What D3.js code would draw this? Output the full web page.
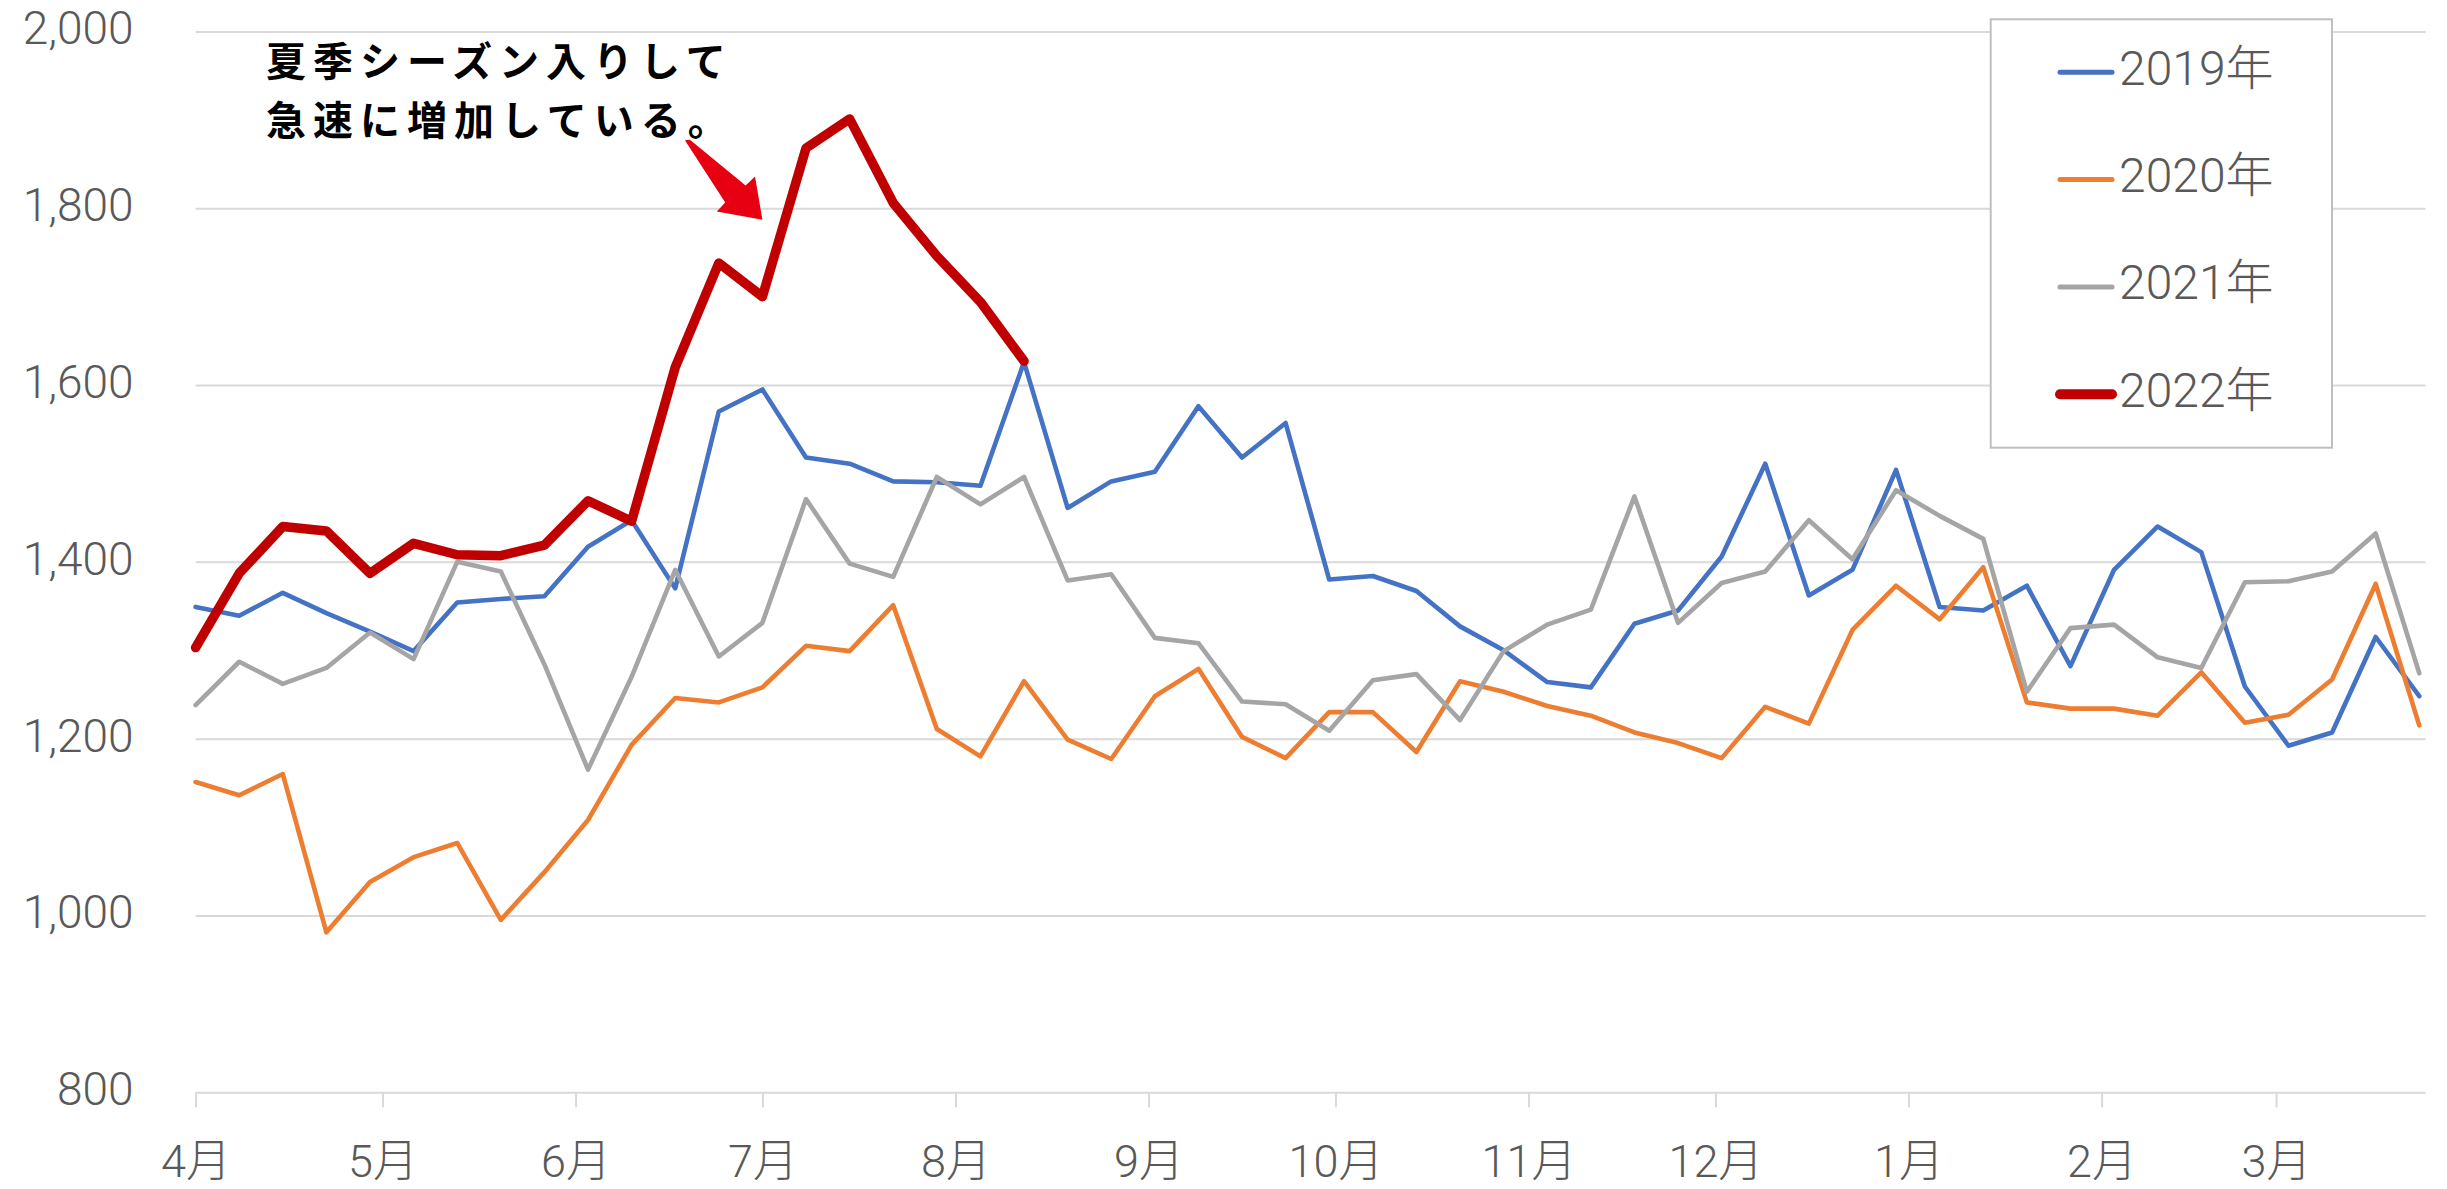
<!DOCTYPE html>
<html><head><meta charset="utf-8">
<script src="https://cdn.jsdelivr.net/npm/d3@7"></script>
<style>
html,body{margin:0;padding:0;background:#fff;}
svg{display:block;}
</style></head>
<body><svg id="chart" width="2447" height="1189"></svg>
<script>
// ---------------- data ----------------
const weekDates = [
  "2022-04-01","2022-04-08","2022-04-15","2022-04-22","2022-04-29",
  "2022-05-06","2022-05-13","2022-05-20","2022-05-27",
  "2022-06-03","2022-06-10","2022-06-17","2022-06-24",
  "2022-07-01","2022-07-08","2022-07-15","2022-07-22","2022-07-29",
  "2022-08-05","2022-08-12","2022-08-19","2022-08-26",
  "2022-09-02","2022-09-09","2022-09-16","2022-09-23","2022-09-30",
  "2022-10-07","2022-10-14","2022-10-21","2022-10-28",
  "2022-11-04","2022-11-11","2022-11-18","2022-11-25",
  "2022-12-02","2022-12-09","2022-12-16","2022-12-23","2022-12-30",
  "2023-01-06","2023-01-13","2023-01-20","2023-01-27",
  "2023-02-03","2023-02-10","2023-02-17","2023-02-24",
  "2023-03-03","2023-03-10","2023-03-17","2023-03-24"
];
const monthTicks = ["2022-04-01","2022-05-01","2022-06-01","2022-07-01","2022-08-01","2022-09-01",
  "2022-10-01","2022-11-01","2022-12-01","2023-01-01","2023-02-01","2023-03-01"];
const monthLabels = ["4月","5月","6月","7月","8月","9月","10月","11月","12月","1月","2月","3月"];
const yTicks = [800,1000,1200,1400,1600,1800,2000];
const seriesNames = ["2019年","2020年","2021年","2022年"];

const v2019 = [1349,1339,1365,1342,1321,1299,1354,1358,1361,1417,1447,1370,1570,1595,1518,1511,1491,1490,1486,1626,
  1461,1491,1502,1576,1518,1557,1380,1384,1367,1327,1300,1264,1258,1330,1345,1406,1511,1362,1391,1504,
  1349,1345,1373,1282,1391,1440,1411,1259,1192,1207,1315,1248];
const v2020 = [1151,1136,1160,981,1038,1066,1082,995,1049,1108,1193,1246,1241,1258,1305,1299,1351,1211,1180,1265,
  1199,1177,1248,1279,1202,1178,1230,1230,1185,1265,1253,1237,1226,1207,1195,1178,1236,1217,1323,1373,
  1335,1394,1241,1234,1234,1226,1275,1218,1227,1267,1375,1215];
const v2021 = [1238,1287,1262,1280,1320,1290,1400,1389,1284,1165,1270,1391,1293,1331,1471,1398,1383,1496,1465,1496,
  1379,1386,1314,1308,1242,1239,1209,1266,1273,1221,1299,1329,1346,1474,1331,1376,1389,1447,1403,1481,
  1452,1426,1253,1325,1329,1292,1280,1377,1378,1389,1432,1274];
const v2022 = [1303,1387,1440,1435,1387,1421,1408,1407,1419,1469,1446,1620,1738,1700,1868,1901,1806,1746,1694,1627];

const annotationLines = ["夏季シーズン入りして","急速に増加している。"];
const arrowTarget = {date:"2022-07-01", value:1787};

// ---------------- layout ----------------
const W = 2447, H = 1189;
const L = 195.6, R = 2425.5, T = 31.4, B = 1092.3;
const colors = ["#4472C4","#ED7D31","#A5A5A5","#C00000"];
const widths = [4.6,4.6,4.6,9.5];
const textColor = "#595959";
const gridColor = "#D9D9D9";
const cjk = "'Noto Sans CJK JP','Noto Sans',sans-serif";
const tickFont = "Roboto,'Noto Sans CJK JP',sans-serif";

const parse = d3.timeParse("%Y-%m-%d");
const dates = weekDates.map(parse);
const x = d3.scaleTime().domain([parse("2022-04-01"), parse("2023-03-25")]).range([L, R]);
const y = d3.scaleLinear().domain([800, 2000]).range([B, T]);

const svg = d3.select("#chart");
svg.append("rect").attr("width", W).attr("height", H).attr("fill", "#fff");

// grid
svg.append("g").attr("transform", `translate(${L},0)`)
  .call(d3.axisLeft(y).tickValues(yTicks).tickSize(-(R - L)).tickFormat(""))
  .call(g => g.select(".domain").remove())
  .selectAll("line").attr("stroke", gridColor).attr("stroke-width", 2);

// y labels
svg.append("g").attr("transform", `translate(${L},0)`)
  .call(d3.axisLeft(y).tickValues(yTicks).tickSize(0).tickPadding(62).tickFormat(d3.format(",")))
  .call(g => g.select(".domain").remove())
  .selectAll("text")
  .attr("font-family", tickFont).attr("font-size", 46).attr("font-weight", 300)
  .attr("fill", textColor).attr("dy", "0.27em");

// x axis
const xa = svg.append("g").attr("transform", `translate(0,${B})`)
  .call(d3.axisBottom(x).tickValues(monthTicks.map(parse)).tickSize(15)
    .tickFormat((d, i) => monthLabels[i]));
xa.select(".domain").remove();
xa.selectAll("line").attr("stroke", gridColor).attr("stroke-width", 2);
xa.selectAll("text").attr("font-family", tickFont).attr("font-size", 45).attr("font-weight", 300)
  .attr("fill", textColor).attr("y", 85).attr("dy", 0);

// lines
const allSeries = [v2019, v2020, v2021, v2022];
const line = d3.line().x((d, i) => x(dates[i])).y(d => y(d));
allSeries.forEach((vals, k) => {
  svg.append("path").datum(vals).attr("d", line)
    .attr("fill", "none").attr("stroke", colors[k]).attr("stroke-width", widths[k])
    .attr("stroke-linejoin", "round").attr("stroke-linecap", "round");
});

// legend
const lgX = 1990.7, lgY = 19.3, lgW = 341.3, lgH = 428.4;
svg.append("rect").attr("x", lgX).attr("y", lgY).attr("width", lgW).attr("height", lgH)
  .attr("fill", "#fff").attr("stroke", "#BFBFBF").attr("stroke-width", 2);
seriesNames.forEach((name, k) => {
  const ry = lgY + 53 + k * 107.3;
  svg.append("line").attr("x1", 2060).attr("x2", 2112).attr("y1", ry).attr("y2", ry)
    .attr("stroke", colors[k]).attr("stroke-width", k === 3 ? 10 : 5).attr("stroke-linecap", "round");
  svg.append("text").attr("x", 2119).attr("y", ry + 12.4).text(name)
    .attr("font-family", tickFont).attr("font-size", 48).attr("font-weight", 300).attr("fill", textColor);
});

// annotation text
annotationLines.forEach((t, i) => {
  svg.append("text").attr("x", 266).attr("y", 76 + i * 59).text(t)
    .attr("font-family", cjk).attr("font-size", 40).attr("font-weight", 700)
    .attr("letter-spacing", 7).attr("fill", "#000");
});

// arrow
const tx = x(parse(arrowTarget.date)), ty = y(arrowTarget.value);
const arrowPts = [[-77.5,-79.5],[-72.5,-80],[-16.8,-34.3],[-7.4,-43.3],[0,0],[-45.6,-8.3],[-37.2,-17.3]];
svg.append("polygon")
  .attr("points", arrowPts.map(p => [tx + p[0], ty + p[1]].join(",")).join(" "))
  .attr("fill", "#E60012");
</script>
</body></html>
